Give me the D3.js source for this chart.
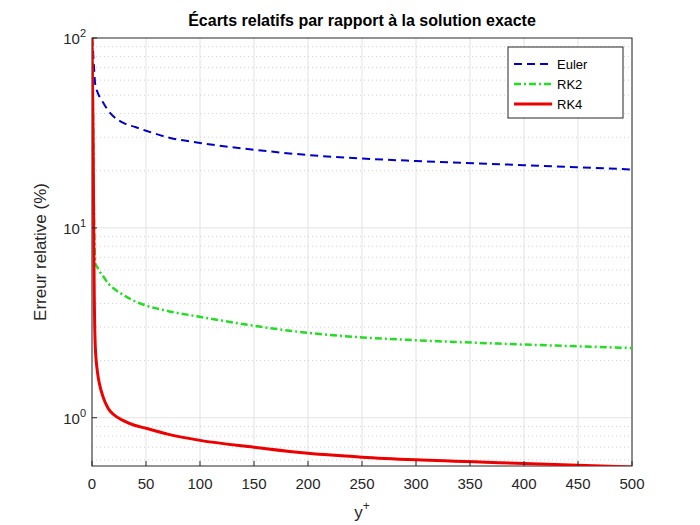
<!DOCTYPE html>
<html><head><meta charset="utf-8">
<script src="https://cdn.jsdelivr.net/npm/d3@7"></script>
<style>body{margin:0;background:#fff;font-family:"Liberation Sans",Arial,sans-serif}</style>
</head><body>
<svg width="700" height="525"></svg>
<script>
// valeurs
const xs    = [0, 1, 2, 3, 5, 7, 10, 15, 20, 30, 40, 50, 70, 100, 150, 200, 250, 300, 400, 500];
const euler = [100, 85, 68, 57, 52, 49, 46, 41.5, 38.6, 35.5, 34, 32.5, 30, 28, 25.8, 24.2, 23.2, 22.5, 21.4, 20.3];
const rk2   = [100, 40, 10, 6.5, 6.2, 5.9, 5.6, 5.1, 4.8, 4.4, 4.1, 3.9, 3.65, 3.4, 3.05, 2.8, 2.65, 2.56, 2.43, 2.33];
const rk4   = [100, 30, 5, 2.4, 1.75, 1.5, 1.3, 1.12, 1.04, 0.96, 0.91, 0.88, 0.82, 0.76, 0.7, 0.65, 0.62, 0.6, 0.575, 0.55];
const series = [
  {name: "Euler", v: euler, color: "#0000cc", dash: "8,5", w: 2},
  {name: "RK2", v: rk2, color: "#22dd22", dash: "7,3,2,3", w: 2.5},
  {name: "RK4", v: rk4, color: "#ee0000", dash: null, w: 3}
];

let svg = d3.select("svg");
const L = 92, R = 632, T = 38, B = 466;
let x = d3.scaleLinear().domain([0, 500]).range([L, R]);
let y = d3.scaleLog().domain([0.557, 100]).range([B, T]);

// grille
let ticksX = d3.range(0, 501, 50);
svg.append("g").selectAll("line").data(ticksX).enter().append("line")
  .attr("x1", d => x(d)).attr("x2", d => x(d)).attr("y1", T).attr("y2", B)
  .attr("stroke", "#e3e3e3");
let minor = [];
[0.1, 1, 10].forEach(p => { for (let k = 2; k <= 9; k++) if (p*k > 0.557) minor.push(p*k); });
svg.append("g").selectAll("line").data(minor).enter().append("line")
  .attr("x1", L).attr("x2", R).attr("y1", d => y(d)).attr("y2", d => y(d))
  .attr("stroke", "#d0d0d0").attr("stroke-dasharray", "1,3");
svg.append("g").selectAll("line").data([1, 10]).enter().append("line")
  .attr("x1", L).attr("x2", R).attr("y1", d => y(d)).attr("y2", d => y(d))
  .attr("stroke", "#e3e3e3");

svg.append("rect").attr("x", L).attr("y", T).attr("width", R - L).attr("height", B - T)
  .attr("fill", "none").attr("stroke", "#262626");

let line = d3.line().x(d => x(d[0])).y(d => y(d[1])).curve(d3.curveMonotoneX);
let plot = svg.append("g");
plot.append("clipPath").attr("id", "c").append("rect").attr("x", L).attr("y", T).attr("width", R - L).attr("height", B - T);
series.forEach(s => {
  plot.append("path").attr("clip-path", "url(#c)")
    .attr("d", line(xs.map((v, i) => [v, s.v[i]])))
    .attr("fill", "none").attr("stroke", s.color).attr("stroke-width", s.w)
    .attr("stroke-dasharray", s.dash);
});

// axes
let ax = svg.append("g").attr("font-size", 15).attr("fill", "#262626");
ax.selectAll("text.xt").data(ticksX).enter().append("text")
  .attr("x", d => x(d)).attr("y", B + 23).attr("text-anchor", "middle").text(d => d);
ax.selectAll("line.xt").data(ticksX).enter().append("line")
  .attr("x1", d => x(d)).attr("x2", d => x(d)).attr("y1", B).attr("y2", B - 5).attr("stroke", "#262626");
[[100, "2"], [10, "1"], [1, "0"]].forEach(([v, e]) => {
  let t = ax.append("text").attr("x", L - 6).attr("y", y(v) + 6).attr("text-anchor", "end");
  t.append("tspan").text("10");
  t.append("tspan").attr("dy", -7).attr("font-size", 11).text(e);
  ax.append("line").attr("x1", L).attr("x2", L + 5).attr("y1", y(v)).attr("y2", y(v)).attr("stroke", "#262626");
});

svg.append("text").attr("x", (L + R) / 2).attr("y", 26).attr("text-anchor", "middle")
  .attr("font-size", 16).attr("font-weight", "bold").text("Écarts relatifs par rapport à la solution exacte");
let xl = svg.append("text").attr("x", (L + R) / 2).attr("y", 518).attr("text-anchor", "middle").attr("font-size", 17).attr("fill", "#262626");
xl.append("tspan").text("y");
xl.append("tspan").attr("dy", -8).attr("font-size", 12).text("+");
svg.append("text").attr("transform", `translate(46,${(T + B) / 2}) rotate(-90)`)
  .attr("text-anchor", "middle").attr("font-size", 17).attr("fill", "#262626").text("Erreur relative (%)");

// légende
let lg = svg.append("g");
lg.append("rect").attr("x", 508).attr("y", 47).attr("width", 115).attr("height", 71)
  .attr("fill", "#fff").attr("stroke", "#262626");
series.forEach((s, i) => {
  let yy = 64 + i * 20;
  lg.append("line").attr("x1", 514).attr("x2", 552).attr("y1", yy).attr("y2", yy)
    .attr("stroke", s.color).attr("stroke-width", s.w).attr("stroke-dasharray", s.dash);
  lg.append("text").attr("x", 557).attr("y", yy + 5).attr("font-size", 13).text(s.name);
});
</script>
</body></html>
